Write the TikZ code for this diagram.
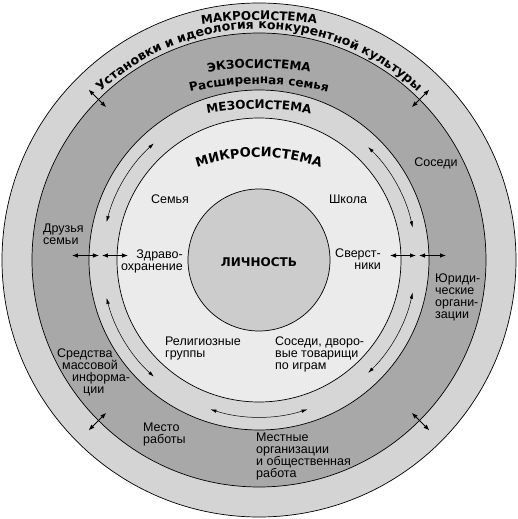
\documentclass[tikz,border=0pt]{standalone}
\usepackage{fontspec}
\setmainfont{Liberation Sans}
\newfontfamily\labelfont{DejaVu Sans}
\usetikzlibrary{arrows.meta,calc,positioning,decorations.text}

\definecolor{macrogray}{gray}{0.83}
\definecolor{exogray}{gray}{0.66}
\definecolor{mesogray}{gray}{0.84}
\definecolor{microgray}{gray}{0.92}
\definecolor{persongray}{gray}{0.80}

\newcommand{\sysfont}{\labelfont\bfseries\fontsize{12}{12}\selectfont}
% curved label: baseline height, radius, half angle, text
\newcommand{\arclabel}[4]{%
  \path[decorate,decoration={text along path,text align=center,text={#4}}]
    ([shift={(90+#3:#2pt)}]0,#1-#2) arc[start angle=90+#3,end angle=90-#3,radius=#2pt];}

\begin{document}
\begin{tikzpicture}[x=1pt,y=1pt,>={Latex[length=6pt,width=4.5pt]},
    ring/.style={draw=black,line width=0.7pt},
    txt/.style={font=\fontsize{12.5}{12}\selectfont,inner sep=0pt},
    bothway/.style={<->,line width=0.8pt},
    curvearrow/.style={{Latex[length=6pt,width=3.5pt]}-{Latex[length=6pt,width=3.5pt]},line width=0.5pt}]
    \useasboundingbox (-259,-259) rectangle (259,260);
    % rings
    \filldraw[ring,fill=macrogray] (0,0) circle (257pt);
    \filldraw[ring,fill=exogray] (0,0) circle (227pt);
    \filldraw[ring,fill=mesogray] (0,0) circle (170pt);
    \filldraw[ring,fill=microgray] (0,0) circle (142pt);
    \filldraw[ring,fill=persongray] (0,0) circle (71pt);
    % system names
    \arclabel{240}{400}{20}{|\sysfont|МАКРОСИСТЕМА}
    \arclabel{231}{231}{50}{|\sysfont\fontsize{12.5}{12.5}\selectfont|Установки и идеология конкурентной культуры}
    \arclabel{192}{300}{25}{|\sysfont|ЭКЗОСИСТЕМА}
    \arclabel{176}{300}{30}{|\sysfont|Расширенная семья}
    \arclabel{151}{300}{25}{|\sysfont|МЕЗОСИСТЕМА}
    \arclabel{103}{190}{30}{|\sysfont\fontsize{13}{13}\selectfont|МИКРОСИСТЕМА}
    \node[font=\sysfont,inner sep=0pt] (person) at (0,-2) {ЛИЧНОСТЬ};
    % microsystem
    \node[txt] (family) at (-89,61) {Семья};
    \node[txt] (school) at (89,61) {Школа};
    \node[txt,align=right,anchor=north east] (health) at (-76,10) {Здраво-\\охранение};
    \node[txt,align=right,anchor=north east] (peers) at (122,11) {Сверст-\\ники};
    \node[txt,align=left,anchor=north west] (church) at (-94,-77) {Религиозные\\группы};
    \node[txt,align=left,anchor=north west] (playmates) at (16,-77) {Соседи, дворо-\\вые товарищи\\по играм};
    % exosystem
    \node[txt,align=left,anchor=north west] (friends) at (-216,36) {Друзья\\семьи};
    \node[txt] (neighbours) at (177,97) {Соседи};
    \node[txt,align=left,anchor=north west] (legal) at (176,-14) {Юриди-\\ческие\\органи-\\зации};
    \node[txt,align=left,anchor=north west] (media) at (-202,-89)
        {Средства\\\hspace*{5pt}массовой\\\hspace*{15pt}информа-\\\hspace*{26pt}ции};
    \node[txt,align=left,anchor=north west] (work) at (-116,-163) {Место\\работы};
    \node[txt,align=left,anchor=north west] (local) at (-3,-173) {Местные\\организации\\и общественная\\работа};
    % links between systems
    \foreach \a in {45,135,225,315} {
        \coordinate (in\a) at (\a:216pt);
        \coordinate (out\a) at (\a:241pt);
        \draw[bothway] (in\a) -- (out\a);
    }
    \foreach \s in {-1,1} {
        \coordinate (a\s) at (\s*187,4.5);
        \coordinate (b\s) at (\s*160,4.5);
        \coordinate (c\s) at (\s*157,4.5);
        \coordinate (d\s) at (\s*131,4.5);
        \draw[bothway] (a\s) -- (b\s);
        \draw[bothway] (c\s) -- (d\s);
    }
    \foreach \s/\e in {132/166,194/228,252/288,314/348,12/46}
        \draw[curvearrow] (\s:157pt) arc[start angle=\s,end angle=\e,radius=157pt];
\end{tikzpicture}
\end{document}
